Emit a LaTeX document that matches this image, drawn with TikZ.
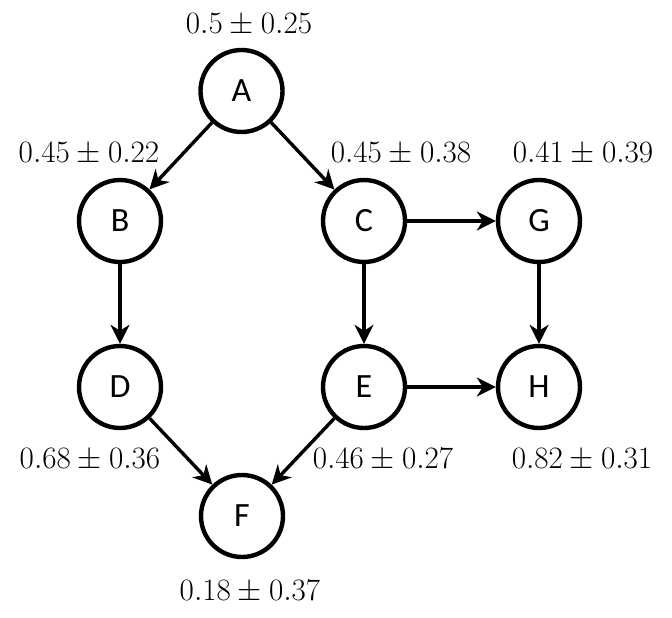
\documentclass[tikz,border=0pt]{standalone}
\usepackage{fontspec}
\newfontfamily\letterfont{Carlito}
\usetikzlibrary{arrows.meta}
\begin{document}
\begin{tikzpicture}[x=1pt,y=-1pt,
  vnode/.style={circle,draw,line width=4.4pt,minimum size=82pt,inner sep=0pt,font=\letterfont\fontsize{34}{38}\selectfont},
  val/.style={font=\Huge,scale=1.25,transform shape,inner sep=0pt},
  edge/.style={line width=3.4pt,-{Stealth[length=19pt,width=19pt,inset=6pt]}}]
\useasboundingbox (0,0) rectangle (672,618);
\node[vnode] (A) at (241.5,91) {A};
\node[vnode] (B) at (120,221) {B};
\node[vnode] (C) at (364,221) {C};
\node[vnode] (G) at (539,221) {G};
\node[vnode] (D) at (120,387) {D};
\node[vnode] (E) at (364,387) {E};
\node[vnode] (H) at (539,387) {H};
\node[vnode] (F) at (242,516) {F};
\node[val] (la) at (249,25) {$0.5\pm0.25$};
\node[val] (lb) at (89,154) {$0.45\pm0.22$};
\node[val] (lc) at (401,154) {$0.45\pm0.38$};
\node[val] (lg) at (583,154) {$0.41\pm0.39$};
\node[val] (ld) at (90,460) {$0.68\pm0.36$};
\node[val] (le) at (383,460) {$0.46\pm0.27$};
\node[val] (lh) at (582,460) {$0.82\pm0.31$};
\node[val] (lf) at (250,592) {$0.18\pm0.37$};
\draw[edge] (A) -- (B);
\draw[edge] (A) -- (C);
\draw[edge] (B) -- (D);
\draw[edge] (C) -- (E);
\draw[edge] (C) -- (G);
\draw[edge] (G) -- (H);
\draw[edge] (E) -- (H);
\draw[edge] (D) -- (F);
\draw[edge] (E) -- (F);
\end{tikzpicture}
\end{document}
